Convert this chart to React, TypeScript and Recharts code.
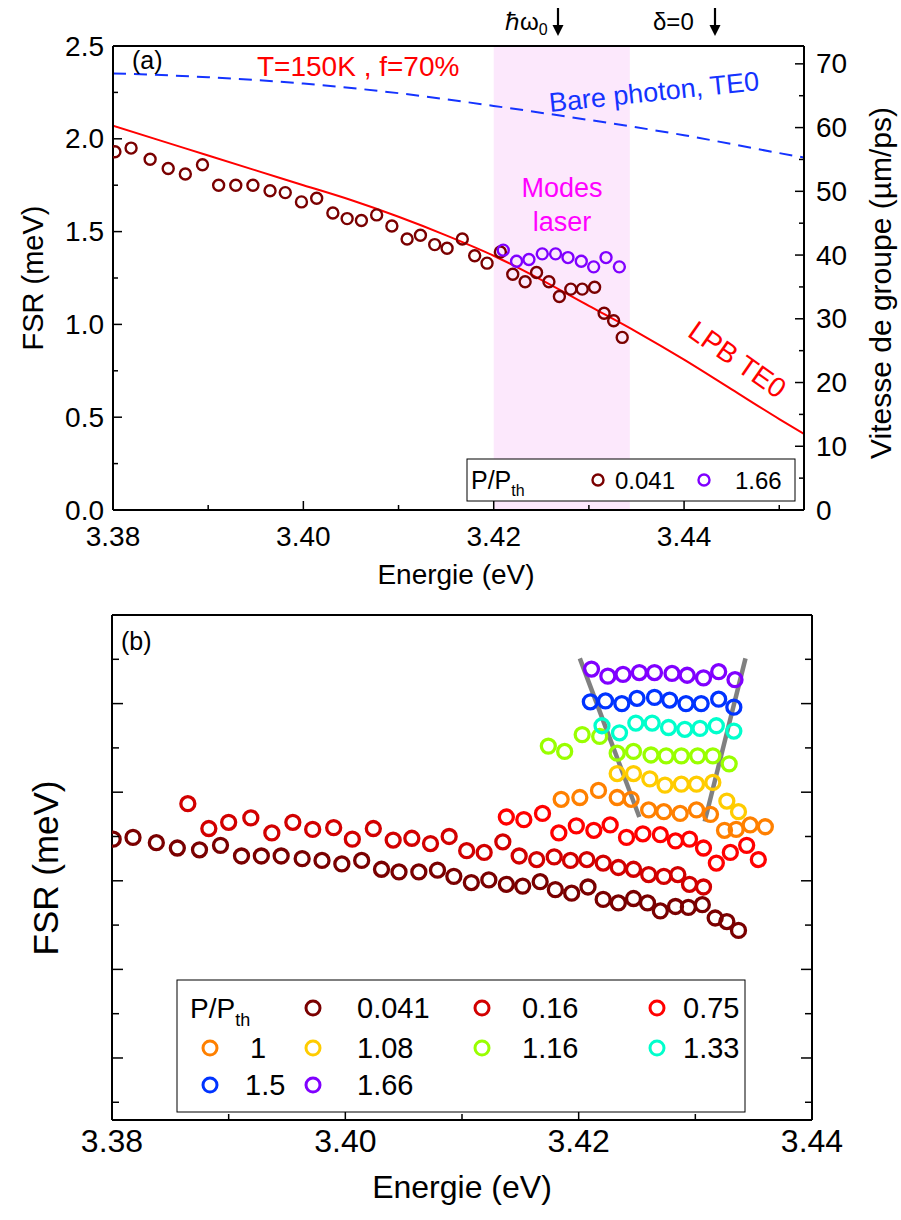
import React from 'react';
import { ComposedChart, Scatter, Line, XAxis, YAxis, ReferenceArea } from 'recharts';

const FONT = '"Liberation Sans", Arial, Helvetica, sans-serif';

// ---------- panel (a) ----------
const E_A_041 = [3.3802, 3.3819, 3.3839, 3.3858, 3.3876, 3.3894, 3.3911, 3.3929, 3.3947, 3.3965, 3.3981, 3.3998, 3.4014, 3.4031, 3.4046, 3.4061, 3.4077, 3.4093, 3.4109, 3.4123, 3.4138, 3.4151, 3.4167, 3.418, 3.4193, 3.4207, 3.422, 3.4233, 3.4245, 3.4258, 3.4269, 3.4281, 3.4293, 3.4306, 3.4316, 3.4326, 3.4335];
const F_A_041 = [1.93, 1.95, 1.89, 1.84, 1.81, 1.86, 1.75, 1.75, 1.75, 1.72, 1.71, 1.66, 1.68, 1.6, 1.57, 1.56, 1.59, 1.53, 1.46, 1.48, 1.43, 1.41, 1.46, 1.37, 1.33, 1.39, 1.27, 1.23, 1.28, 1.23, 1.15, 1.19, 1.19, 1.2, 1.06, 1.02, 0.93];
const E_A_166 = [3.421, 3.4224, 3.4237, 3.4251, 3.4265, 3.4278, 3.4292, 3.4305, 3.4318, 3.4332];
const F_A_166 = [1.4, 1.34, 1.35, 1.38, 1.38, 1.36, 1.34, 1.31, 1.36, 1.31];

// LPB TE0 (meV) and bare photon TE0 group velocity (um/ps)
const E_LPB = [3.38, 3.385, 3.39, 3.395, 3.4, 3.405, 3.41, 3.415, 3.42, 3.425, 3.43, 3.435, 3.44, 3.445, 3.45, 3.4526];
const F_LPB = [2.07, 1.99, 1.91, 1.83, 1.75, 1.67, 1.58, 1.48, 1.37, 1.24, 1.1, 0.96, 0.81, 0.65, 0.49, 0.41];
const E_BARE = [3.38, 3.39, 3.4, 3.41, 3.42, 3.43, 3.44, 3.45, 3.4526];
const V_BARE = [68.5, 67.9, 66.9, 65.4, 63.4, 61.2, 58.8, 56.0, 55.3];

const LASER_BAND = [3.42, 3.4343];

const A_X_TICKS = [3.38, 3.39, 3.4, 3.41, 3.42, 3.43, 3.44, 3.45];
const A_Y_TICKS = [0, 0.25, 0.5, 0.75, 1, 1.25, 1.5, 1.75, 2, 2.25, 2.5];
const A_V_TICKS = [0, 5, 10, 15, 20, 25, 30, 35, 40, 45, 50, 55, 60, 65, 70];

// ---------- panel (b) (offset curves) ----------
const E_B_041 = [3.3801, 3.3818, 3.3838, 3.3856, 3.3875, 3.3893, 3.3911, 3.3928, 3.3945, 3.3963, 3.398, 3.3997, 3.4014, 3.4031, 3.4046, 3.4063, 3.4079, 3.4093, 3.4108, 3.4123, 3.4138, 3.4152, 3.4167, 3.418, 3.4194, 3.4208, 3.4221, 3.4234, 3.4247, 3.4259, 3.427, 3.4283, 3.4294, 3.4306, 3.4317, 3.4327, 3.4337];
const F_B_041 = [2.97, 2.99, 2.93, 2.87, 2.85, 2.9, 2.78, 2.78, 2.78, 2.75, 2.73, 2.69, 2.73, 2.63, 2.6, 2.6, 2.62, 2.55, 2.48, 2.51, 2.46, 2.44, 2.49, 2.4, 2.36, 2.43, 2.29, 2.25, 2.3, 2.25, 2.16, 2.21, 2.2, 2.23, 2.08, 2.04, 1.94];
const E_B_016 = [3.3865, 3.3883, 3.39, 3.3919, 3.3937, 3.3955, 3.3972, 3.399, 3.4006, 3.4024, 3.4041, 3.4057, 3.4073, 3.4089, 3.4104, 3.4119, 3.4135, 3.4149, 3.4164, 3.4179, 3.4193, 3.4207, 3.4221, 3.4234, 3.4247, 3.426, 3.4273, 3.4285, 3.4295, 3.4307];
const F_B_016 = [3.37, 3.09, 3.16, 3.21, 3.04, 3.16, 3.08, 3.1, 2.97, 3.09, 2.96, 2.98, 2.92, 3.0, 2.84, 2.82, 2.94, 2.78, 2.74, 2.77, 2.73, 2.74, 2.7, 2.65, 2.63, 2.57, 2.55, 2.57, 2.46, 2.43];
const E_B_075 = [3.4138, 3.4153, 3.4169, 3.4183, 3.4198, 3.4213, 3.4227, 3.4241, 3.4255, 3.427, 3.4283, 3.4295, 3.4307, 3.4318, 3.433, 3.4344, 3.4354];
const F_B_075 = [3.22, 3.19, 3.26, 3.04, 3.12, 3.07, 3.13, 2.99, 3.03, 3.02, 2.95, 2.97, 2.87, 2.7, 2.82, 2.9, 2.74];
const E_B_1 = [3.4185, 3.4201, 3.4217, 3.4233, 3.4245, 3.426, 3.4273, 3.4287, 3.4301, 3.4313, 3.4325, 3.4335, 3.4347, 3.436];
const F_B_1 = [3.42, 3.44, 3.52, 3.44, 3.42, 3.3, 3.28, 3.26, 3.3, 3.25, 3.07, 3.08, 3.13, 3.11];
const E_B_108 = [3.4233, 3.4247, 3.4261, 3.4274, 3.4288, 3.4301, 3.4315, 3.4327, 3.4337];
const F_B_108 = [3.71, 3.71, 3.65, 3.58, 3.59, 3.59, 3.61, 3.4, 3.28];
const E_B_116 = [3.4174, 3.4188, 3.4203, 3.4218, 3.4233, 3.4247, 3.4262, 3.4275, 3.4288, 3.4302, 3.4315, 3.4329];
const F_B_116 = [4.02, 3.96, 4.15, 4.13, 3.94, 3.96, 3.92, 3.91, 3.91, 3.91, 3.91, 3.82];
const E_B_133 = [3.422, 3.4235, 3.4249, 3.4263, 3.4277, 3.4291, 3.4304, 3.4318, 3.4333];
const F_B_133 = [4.25, 4.17, 4.28, 4.28, 4.23, 4.21, 4.22, 4.25, 4.19];
const E_B_15 = [3.421, 3.4223, 3.4237, 3.425, 3.4265, 3.4278, 3.4292, 3.4305, 3.432, 3.4333];
const F_B_15 = [4.52, 4.53, 4.5, 4.56, 4.57, 4.54, 4.5, 4.5, 4.55, 4.46];
const E_B_166 = [3.4211, 3.4225, 3.4238, 3.4252, 3.4265, 3.428, 3.4293, 3.4307, 3.432, 3.4334];
const F_B_166 = [4.89, 4.81, 4.83, 4.85, 4.85, 4.84, 4.82, 4.79, 4.86, 4.77];

// grey guide lines (funnel)
const E_GUIDE_L = [3.4201, 3.4252];
const F_GUIDE_L = [5.01, 3.22];
const E_GUIDE_R = [3.4343, 3.4308];
const F_GUIDE_R = [5.01, 3.17];

const B_X_TICKS = [3.38, 3.39, 3.4, 3.41, 3.42, 3.43, 3.44];
const B_Y_TICKS = [0, 0.5, 1, 1.5, 2, 2.5, 3, 3.5, 4, 4.5, 5];

const C = {
  p041: '#7a0000',
  p016: '#d20000',
  p075: '#ff0000',
  p1: '#ff8000',
  p108: '#ffcc00',
  p116: '#99ff00',
  p133: '#00ffcc',
  p15: '#0033ff',
  p166: '#8000ff',
};

const pts = (xs: number[], ys: number[]) => xs.map((x, i) => ({ x, y: ys[i] }));

const ring = (color: string, r: number, sw: number) => (p: any) => (
  <circle cx={p.cx} cy={p.cy} r={r} fill="none" stroke={color} strokeWidth={sw} />
);

type Side = 'bottom' | 'top' | 'left' | 'right';

// inward ticks, labels only on major ticks
const axisTick =
  (side: Side, isMajor: (v: number) => boolean, fmt: ((v: number) => string) | null, long: number, short: number, fontSize = 28, gap = 10) =>
  (props: any) => {
    const { x, y, payload } = props;
    const v = payload.value;
    const major = isMajor(v);
    const len = major ? long : short;
    const label = major && fmt ? fmt(v) : null;
    const ts = { fontSize, fontFamily: FONT, fill: '#000' } as const;
    let l: React.ReactNode = null;
    let t: React.ReactNode = null;
    if (side === 'bottom') {
      l = <line x1={x} y1={y} x2={x} y2={y - len} stroke="#000" strokeWidth={1.5} />;
      if (label) t = <text x={x} y={y + gap} textAnchor="middle" {...ts}>{label}</text>;
    } else if (side === 'top') {
      l = <line x1={x} y1={y} x2={x} y2={y + len} stroke="#000" strokeWidth={1.5} />;
    } else if (side === 'left') {
      l = <line x1={x} y1={y} x2={x + len} y2={y} stroke="#000" strokeWidth={1.5} />;
      if (label) t = <text x={x - gap} y={y} textAnchor="end" dominantBaseline="central" {...ts}>{label}</text>;
    } else {
      l = <line x1={x} y1={y} x2={x - len} y2={y} stroke="#000" strokeWidth={1.5} />;
      if (label) t = <text x={x + gap} y={y} textAnchor="start" dominantBaseline="central" {...ts}>{label}</text>;
    }
    return <g>{l}{t}</g>;
  };

const hundredthsEven = (v: number) => Math.round(v * 100) % 2 === 0;
const halfStep = (v: number) => Math.abs(v * 2 - Math.round(v * 2)) < 1e-6;
const tenStep = (v: number) => Math.round(v) % 10 === 0;
const oddHalf = (v: number) => Math.round(v * 2) % 2 === 1;

const AX = { stroke: '#000', strokeWidth: 2 };

function PanelA() {
  return (
    <ComposedChart width={901} height={600} margin={{ top: 26, right: 37, bottom: 50, left: 53 }}>
      <XAxis dataKey="x" type="number" domain={[3.38, 3.4526]} ticks={A_X_TICKS} interval={0} allowDataOverflow
        tickSize={0} tickMargin={0} height={40} axisLine={AX} tickLine={false}
        tick={axisTick('bottom', hundredthsEven, (v) => v.toFixed(2), 9, 5, 28, 36)} />
      <XAxis xAxisId="top" orientation="top" type="number" domain={[3.38, 3.4526]} ticks={A_X_TICKS} interval={0} allowDataOverflow
        tickSize={0} tickMargin={0} height={20} axisLine={AX} tickLine={false}
        tick={axisTick('top', hundredthsEven, null, 9, 5)} />
      <YAxis yAxisId="left" dataKey="y" type="number" domain={[0, 2.5]} ticks={A_Y_TICKS} interval={0} allowDataOverflow
        tickSize={0} tickMargin={0} width={60} axisLine={AX} tickLine={false}
        tick={axisTick('left', halfStep, (v) => v.toFixed(1), 9, 5, 28, 9)} />
      <YAxis yAxisId="right" orientation="right" dataKey="y" type="number" domain={[0, 72.8]} ticks={A_V_TICKS} interval={0} allowDataOverflow
        tickSize={0} tickMargin={0} width={60} axisLine={AX} tickLine={false}
        tick={axisTick('right', tenStep, (v) => String(v), 9, 5, 28, 12)} />
      <ReferenceArea yAxisId="left" x1={LASER_BAND[0]} x2={LASER_BAND[1]} y1={0} y2={2.5} fill="#fce8fc" fillOpacity={1} stroke="none" />
      <Line yAxisId="right" data={pts(E_BARE, V_BARE)} dataKey="y" type="monotone" stroke="#1433ff" strokeWidth={2}
        strokeDasharray="13 8" dot={false} isAnimationActive={false} />
      <Line yAxisId="left" data={pts(E_LPB, F_LPB)} dataKey="y" type="monotone" stroke="#ff0000" strokeWidth={2}
        dot={false} isAnimationActive={false} />
      <Scatter yAxisId="left" data={pts(E_A_041, F_A_041)} shape={ring(C.p041, 5.5, 2.4)} isAnimationActive={false} />
      <Scatter yAxisId="left" data={pts(E_A_166, F_A_166)} shape={ring(C.p166, 5.5, 2.4)} isAnimationActive={false} />
    </ComposedChart>
  );
}

function PanelB() {
  const series: [number[], number[], string][] = [
    [E_B_041, F_B_041, C.p041],
    [E_B_016, F_B_016, C.p016],
    [E_B_075, F_B_075, C.p075],
    [E_B_1, F_B_1, C.p1],
    [E_B_108, F_B_108, C.p108],
    [E_B_116, F_B_116, C.p116],
    [E_B_133, F_B_133, C.p133],
    [E_B_15, F_B_15, C.p15],
    [E_B_166, F_B_166, C.p166],
  ];
  return (
    <ComposedChart width={901} height={620} margin={{ top: 5, right: 29, bottom: 60, left: 52 }}>
      <XAxis dataKey="x" type="number" domain={[3.38, 3.44]} ticks={B_X_TICKS} interval={0} allowDataOverflow
        tickSize={0} tickMargin={0} height={40} axisLine={AX} tickLine={false}
        tick={axisTick('bottom', hundredthsEven, (v) => v.toFixed(2), 10, 6, 32, 32)} />
      <XAxis xAxisId="top" orientation="top" type="number" domain={[3.38, 3.44]} ticks={B_X_TICKS} interval={0} allowDataOverflow
        tickSize={0} tickMargin={0} height={10} axisLine={AX} tickLine={false}
        tick={axisTick('top', hundredthsEven, null, 10, 6)} />
      <YAxis dataKey="y" type="number" domain={[-0.2, 5.5]} ticks={B_Y_TICKS} interval={0} allowDataOverflow
        tickSize={0} tickMargin={0} width={60} axisLine={AX} tickLine={false}
        tick={axisTick('left', oddHalf, null, 11, 7)} />
      <YAxis yAxisId="right" orientation="right" type="number" domain={[-0.2, 5.5]} ticks={B_Y_TICKS} interval={0} allowDataOverflow
        tickSize={0} tickMargin={0} width={60} axisLine={AX} tickLine={false}
        tick={axisTick('right', oddHalf, null, 11, 7)} />
      {series.map(([xs, ys, col], i) => (
        <Scatter key={i} data={pts(xs, ys)} shape={ring(col, 7, 3.3)} isAnimationActive={false} />
      ))}
      <Line data={pts(E_GUIDE_L, F_GUIDE_L)} dataKey="y" stroke="#808080" strokeWidth={4.5} dot={false} isAnimationActive={false} />
      <Line data={pts(E_GUIDE_R, F_GUIDE_R)} dataKey="y" stroke="#808080" strokeWidth={4.5} dot={false} isAnimationActive={false} />
    </ComposedChart>
  );
}

const T = { fontFamily: FONT, fill: '#000' } as const;

function LegendRing({ cx, cy, color, r = 7, sw = 3 }: { cx: number; cy: number; color: string; r?: number; sw?: number }) {
  return <circle cx={cx} cy={cy} r={r} fill="none" stroke={color} strokeWidth={sw} />;
}

function DownArrow({ x, y1, y2 }: { x: number; y1: number; y2: number }) {
  return (
    <g>
      <line x1={x} y1={y1} x2={x} y2={y2 - 8} stroke="#000" strokeWidth={2.2} />
      <polygon points={`${x - 5.5},${y2 - 11} ${x + 5.5},${y2 - 11} ${x},${y2}`} fill="#000" />
    </g>
  );
}

function Overlay() {
  return (
    <svg width={901} height={1220} style={{ position: 'absolute', left: 0, top: 0, pointerEvents: 'none' }}>
      {/* panel (a) annotations */}
      <text x={132} y={69} fontSize={25} {...T}>(a)</text>
      <text x={257} y={76} fontSize={28} fontFamily={FONT} fill="#ff0000">T=150K , f=70%</text>
      <text x={655} y={101} fontSize={27} fontFamily={FONT} fill="#1433ff" textAnchor="middle" transform="rotate(-6 655 101)">Bare photon, TE0</text>
      <text x={562} y={197} fontSize={27} fontFamily={FONT} fill="#ff00ff" textAnchor="middle">Modes</text>
      <text x={562} y={231} fontSize={27} fontFamily={FONT} fill="#ff00ff" textAnchor="middle">laser</text>
      <text x={737} y={369} fontSize={28} fontFamily={FONT} fill="#ff0000" textAnchor="middle" transform="rotate(35 737 360)">LPB TE0</text>
      <text x={505} y={30} fontSize={24} {...T}>ℏω<tspan fontSize={16} dy={5}>0</tspan></text>
      <DownArrow x={558} y1={8} y2={36} />
      <text x={653} y={30} fontSize={24} {...T}>δ=0</text>
      <DownArrow x={715} y1={8} y2={36} />
      <text x={33} y={278} fontSize={29} textAnchor="middle" dominantBaseline="central" transform="rotate(-90 33 278)" {...T}>FSR (meV)</text>
      <text x={880} y={283} fontSize={30} textAnchor="middle" dominantBaseline="central" transform="rotate(-90 880 283)" {...T}>Vitesse de groupe (µm/ps)</text>
      <text x={456} y={584} fontSize={28} textAnchor="middle" {...T}>Energie (eV)</text>

      {/* legend (a) */}
      <rect x={467} y={459} width={328} height={42} fill="#fff" stroke="#000" strokeWidth={1} />
      <text x={471} y={489} fontSize={25} {...T}>P/P<tspan fontSize={16} dy={7}>th</tspan></text>
      <LegendRing cx={598} cy={480} color={C.p041} r={5.5} sw={2.4} />
      <text x={615} y={489} fontSize={24} {...T}>0.041</text>
      <LegendRing cx={704} cy={480} color={C.p166} r={5.5} sw={2.4} />
      <text x={735} y={489} fontSize={24} {...T}>1.66</text>

      {/* panel (b) annotations */}
      <text x={121} y={650} fontSize={25} {...T}>(b)</text>
      <text x={45} y={868} fontSize={35} textAnchor="middle" dominantBaseline="central" transform="rotate(-90 45 868)" {...T}>FSR (meV)</text>
      <text x={462} y={1198} fontSize={32} textAnchor="middle" {...T}>Energie (eV)</text>

      {/* legend (b) */}
      <rect x={177} y={980} width={568} height={132} fill="#fff" stroke="#000" strokeWidth={1} />
      <text x={190} y={1018} fontSize={28} {...T}>P/P<tspan fontSize={18} dy={8}>th</tspan></text>
      <LegendRing cx={313} cy={1008} color={C.p041} />
      <text x={357} y={1018} fontSize={29} {...T}>0.041</text>
      <LegendRing cx={482} cy={1008} color={C.p016} />
      <text x={522} y={1018} fontSize={29} {...T}>0.16</text>
      <LegendRing cx={657} cy={1008} color={C.p075} />
      <text x={683} y={1018} fontSize={29} {...T}>0.75</text>

      <LegendRing cx={210} cy={1048} color={C.p1} />
      <text x={250} y={1058} fontSize={29} {...T}>1</text>
      <LegendRing cx={313} cy={1048} color={C.p108} />
      <text x={357} y={1058} fontSize={29} {...T}>1.08</text>
      <LegendRing cx={482} cy={1048} color={C.p116} />
      <text x={522} y={1058} fontSize={29} {...T}>1.16</text>
      <LegendRing cx={657} cy={1048} color={C.p133} />
      <text x={683} y={1058} fontSize={29} {...T}>1.33</text>

      <LegendRing cx={210} cy={1085} color={C.p15} />
      <text x={245} y={1095} fontSize={29} {...T}>1.5</text>
      <LegendRing cx={313} cy={1085} color={C.p166} />
      <text x={357} y={1095} fontSize={29} {...T}>1.66</text>
    </svg>
  );
}

export default function App() {
  return (
    <div style={{ position: 'absolute', left: 0, top: 0, width: 901, height: 1220, background: '#fff', fontFamily: FONT }}>
      <div style={{ position: 'absolute', left: 0, top: 0 }}>
        <PanelA />
      </div>
      <div style={{ position: 'absolute', left: 0, top: 600 }}>
        <PanelB />
      </div>
      <Overlay />
    </div>
  );
}
